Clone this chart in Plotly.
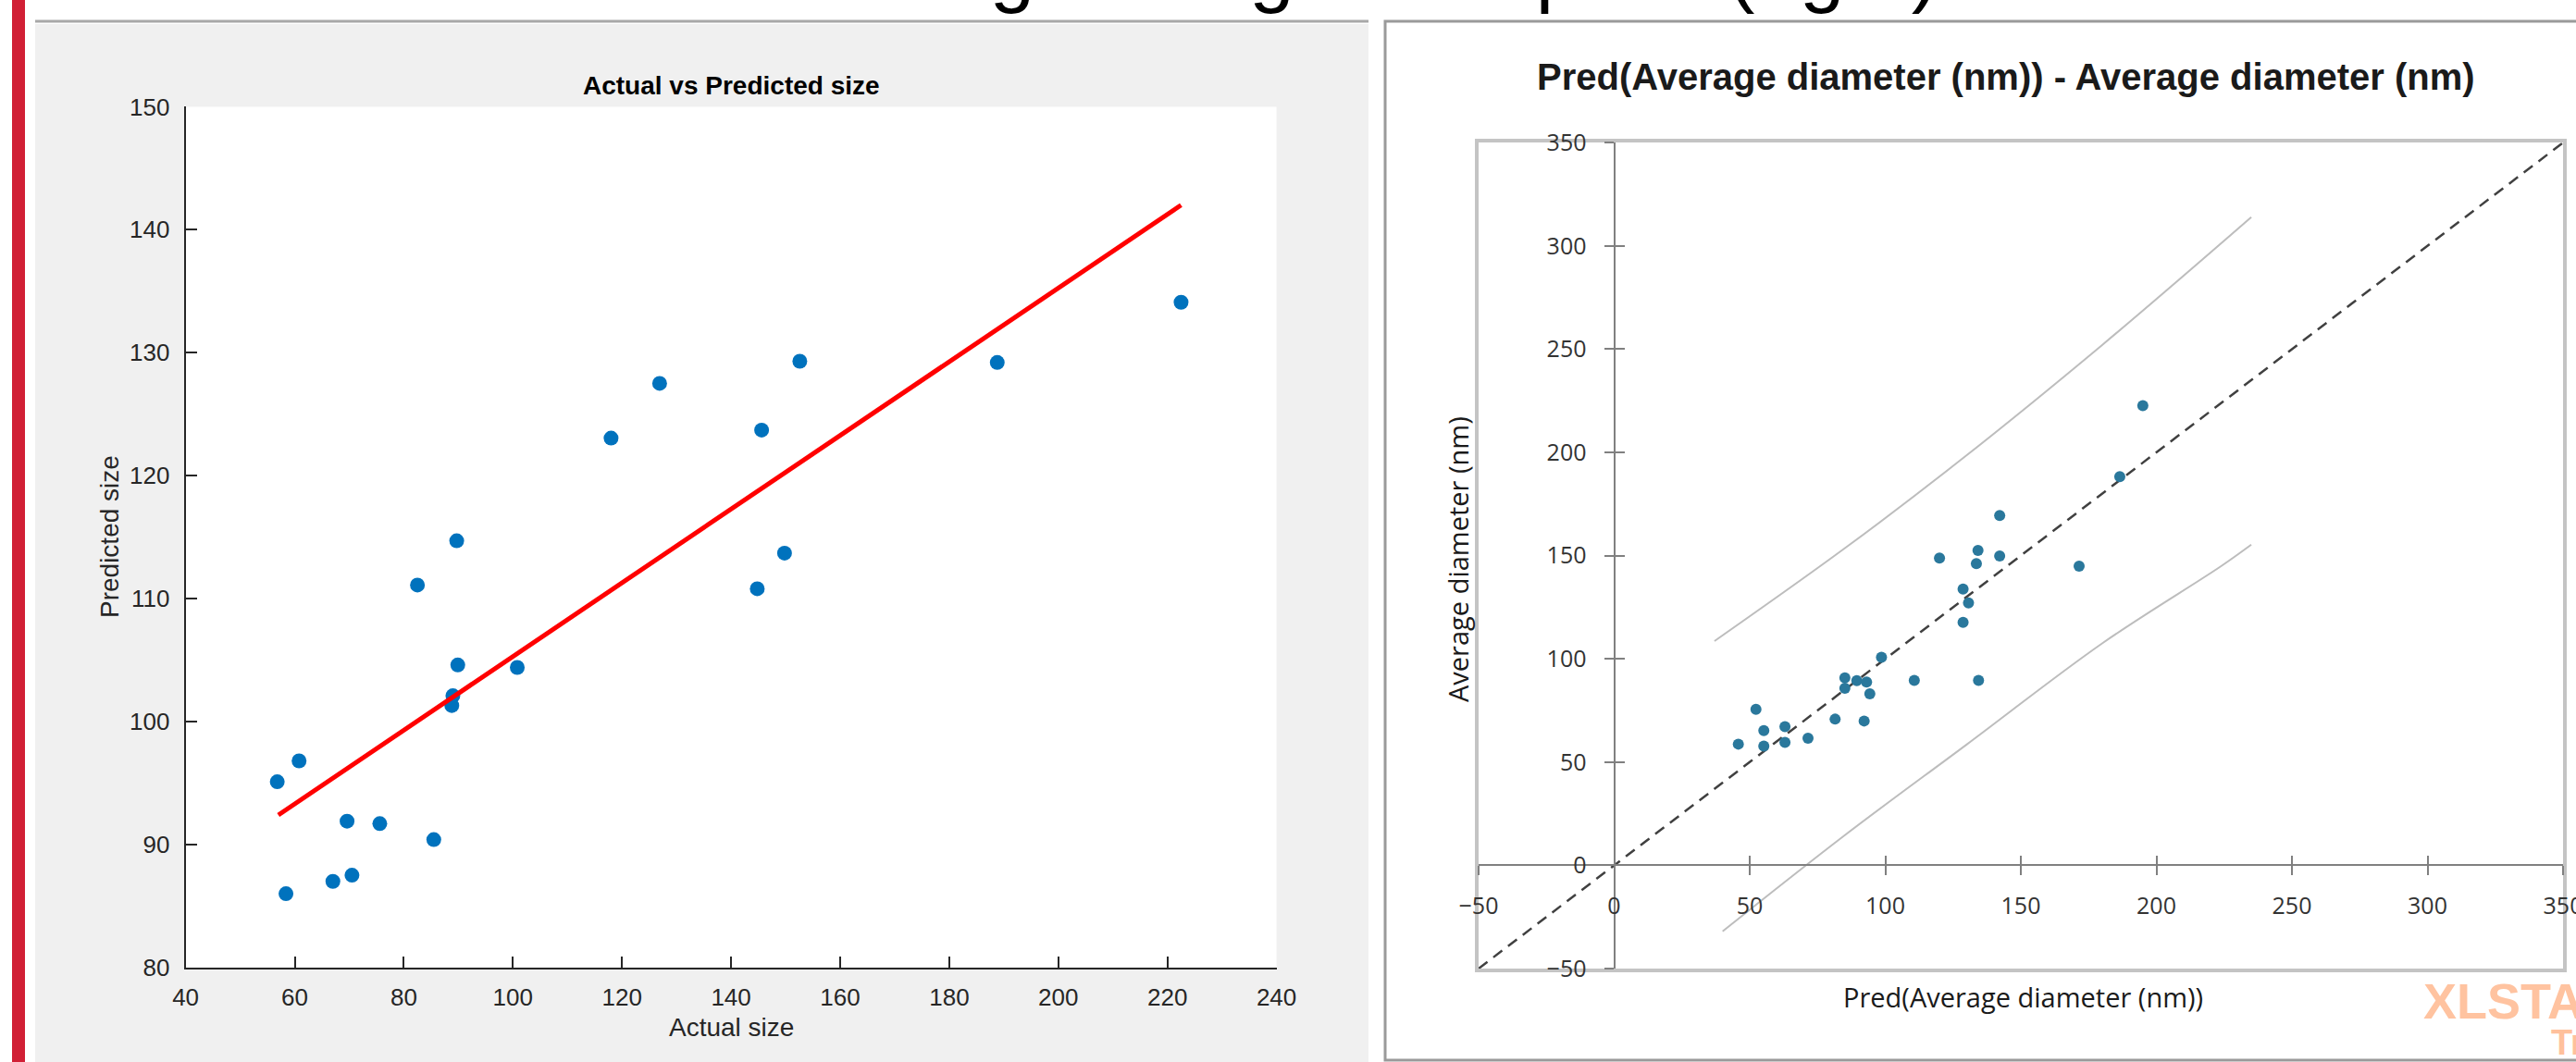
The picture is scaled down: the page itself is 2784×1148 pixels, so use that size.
import plotly.graph_objects as go

W, H = 2784, 1148

# ---------------- Left panel (MATLAB) data ----------------
actual_size = [56.8, 60.8, 58.4, 67.0, 69.6, 70.5, 75.6, 82.5, 85.5, 89.7, 89.9,
               89.0, 88.8, 100.8, 118.0, 126.9, 144.8, 145.6, 149.8, 152.6, 188.8, 222.5]
predicted_size = [95.1, 96.8, 86.0, 87.0, 91.9, 87.5, 91.7, 111.1, 90.4, 114.7, 104.6,
                  102.1, 101.3, 104.4, 123.05, 127.5, 110.8, 123.7, 113.7, 129.3, 129.2, 134.1]
fit_x = [57.0, 222.5]
fit_y = [92.4, 142.0]
left_xticks = [40, 60, 80, 100, 120, 140, 160, 180, 200, 220, 240]
left_yticks = [80, 90, 100, 110, 120, 130, 140, 150]

# ---------------- Right panel (XLSTAT) data ----------------
pred_diam = [45.8, 52.3, 55.2, 55.2, 63.0, 63.0, 71.5, 81.5, 85.1, 85.1, 89.5, 93.1, 94.3, 92.2,
             98.6, 110.7, 134.4, 120.0, 128.7, 130.7, 128.7, 133.6, 134.2, 142.2, 142.2, 171.5,
             186.5, 195.0]
avg_diam = [58.7, 75.6, 65.3, 57.8, 67.2, 59.5, 61.6, 70.8, 90.8, 85.8, 89.5, 88.8, 83.1, 69.9,
            100.8, 89.6, 89.6, 148.8, 133.8, 127.1, 117.7, 146.1, 152.5, 149.8, 169.4, 144.9,
            188.2, 222.6]
diag_x = [-50, 350]
diag_y = [-50, 350]
upper_x = [37, 85, 128, 180, 235]
upper_y = [108.6, 153.5, 196.5, 252.0, 313.9]
lower_x = [40, 85, 130, 180, 224, 235]
lower_y = [-32.0, 14.5, 58.5, 107.5, 145.0, 155.3]
right_ticks = [-50, 0, 50, 100, 150, 200, 250, 300, 350]
right_range = [-50, 350]

# ---------------- layout geometry (pixels) ----------------
L_X0, L_X1, L_YT, L_YB = 200.6, 1379.6, 115.4, 1045.8
R_X0, R_X1, R_YT, R_YB = 1598.0, 2770.0, 154.2, 1047.0


def fx(p):
    return p / W


def fy(p):
    return 1 - p / H


r_xdom = [fx(R_X0), fx(R_X1)]
r_ydom = [fy(R_YB), fy(R_YT)]
zero_frac = (0 - right_range[0]) / (right_range[1] - right_range[0])
xaxis_pos = r_ydom[0] + zero_frac * (r_ydom[1] - r_ydom[0])
yaxis_pos = r_xdom[0] + zero_frac * (r_xdom[1] - r_xdom[0])

fig = go.Figure()

# left
fig.add_trace(go.Scatter(x=actual_size, y=predicted_size, mode="markers",
                         marker=dict(color="#0072BD", size=16, line=dict(width=0)),
                         xaxis="x", yaxis="y", showlegend=False))
fig.add_trace(go.Scatter(x=fit_x, y=fit_y, mode="lines",
                         line=dict(color="#FF0000", width=5),
                         xaxis="x", yaxis="y", showlegend=False))

# right
fig.add_trace(go.Scatter(x=upper_x, y=upper_y, mode="lines",
                         line=dict(color="#BDBDBD", width=2, shape="spline"),
                         xaxis="x2", yaxis="y2", showlegend=False))
fig.add_trace(go.Scatter(x=lower_x, y=lower_y, mode="lines",
                         line=dict(color="#BDBDBD", width=2, shape="spline"),
                         xaxis="x2", yaxis="y2", showlegend=False))
fig.add_trace(go.Scatter(x=diag_x, y=diag_y, mode="lines",
                         line=dict(color="#404040", width=2.5, dash="12px,8px"),
                         xaxis="x2", yaxis="y2", showlegend=False))
fig.add_trace(go.Scatter(x=pred_diam, y=avg_diam, mode="markers",
                         marker=dict(color="#2A789C", size=12, line=dict(width=0)),
                         xaxis="x2", yaxis="y2", showlegend=False))

# dummy traces so overlay axes get drawn
for xa, ya in [("x3", "y2"), ("x4", "y2"), ("x2", "y3"), ("x2", "y4")]:
    fig.add_trace(go.Scatter(x=[None], y=[None], xaxis=xa, yaxis=ya, showlegend=False,
                             hoverinfo="skip"))

mat_font = dict(family="Liberation Sans, Arial, sans-serif", size=26, color="#262626")
xl_font = dict(family="Open Sans, Noto Sans, sans-serif", size=25, color="#333333")

fig.update_layout(
    width=W, height=H, autosize=False,
    margin=dict(l=0, r=0, t=0, b=0, pad=0, autoexpand=False),
    paper_bgcolor="white", plot_bgcolor="white",
    showlegend=False,
    xaxis=dict(domain=[fx(L_X0), fx(L_X1)], range=[40, 240], tickvals=left_xticks,
               ticks="inside", ticklen=12, tickwidth=2, tickcolor="#262626",
               showline=True, linecolor="#262626", linewidth=2, showgrid=False, zeroline=False,
               tickfont=mat_font, anchor="y", ticklabelstandoff=8, automargin=False),
    yaxis=dict(domain=[fy(L_YB), fy(L_YT)], range=[80, 150], tickvals=left_yticks,
               ticks="inside", ticklen=12, tickwidth=2, tickcolor="#262626",
               showline=True, linecolor="#262626", linewidth=2, showgrid=False, zeroline=False,
               tickfont=mat_font, anchor="x", ticklabelstandoff=10, automargin=False),
    xaxis2=dict(domain=r_xdom, range=right_range, anchor="y2", showline=True, mirror=True,
                linecolor="#C4C4C4", linewidth=4, ticks="", showticklabels=False,
                showgrid=False, zeroline=False, automargin=False),
    yaxis2=dict(domain=r_ydom, range=right_range, anchor="x2", showline=True, mirror=True,
                linecolor="#C4C4C4", linewidth=4, ticks="", showticklabels=False,
                showgrid=False, zeroline=False, automargin=False),
    xaxis3=dict(overlaying="x2", anchor="free", position=xaxis_pos, range=right_range,
                tickvals=right_ticks, ticks="outside", ticklen=10, tickwidth=2,
                tickcolor="#808080", showline=True, linecolor="#808080", linewidth=2,
                showgrid=False, zeroline=False, tickfont=xl_font, ticklabelstandoff=12,
                ticklabeloverflow="allow", automargin=False),
    xaxis4=dict(overlaying="x2", anchor="free", position=xaxis_pos, range=right_range,
                tickvals=right_ticks, ticks="inside", ticklen=10, tickwidth=2,
                tickcolor="#808080", showline=False, showticklabels=False,
                showgrid=False, zeroline=False, automargin=False),
    yaxis3=dict(overlaying="y2", anchor="free", position=yaxis_pos, range=right_range,
                tickvals=right_ticks, ticks="outside", ticklen=10, tickwidth=2,
                tickcolor="#808080", showline=True, linecolor="#808080", linewidth=2,
                showgrid=False, zeroline=False, tickfont=xl_font, ticklabelstandoff=14,
                ticklabeloverflow="allow", automargin=False),
    yaxis4=dict(overlaying="y2", anchor="free", position=yaxis_pos, range=right_range,
                tickvals=right_ticks, ticks="inside", ticklen=10, tickwidth=2,
                tickcolor="#808080", showline=False, showticklabels=False,
                showgrid=False, zeroline=False, automargin=False),
)

shapes = [
    # red slide bar
    dict(type="rect", xref="paper", yref="paper", x0=fx(13), x1=fx(27), y0=0, y1=1,
         fillcolor="#D11F35", line=dict(width=0), layer="below"),
    # left grey figure panel
    dict(type="rect", xref="paper", yref="paper", x0=fx(38), x1=fx(1479), y0=0, y1=fy(26),
         fillcolor="#F0F0F0", line=dict(width=0), layer="below"),
    dict(type="rect", xref="x domain", yref="y domain", x0=0, x1=1, y0=0, y1=1,
         fillcolor="white", line=dict(width=0), layer="below"),
    # left panel top rule
    dict(type="line", xref="paper", yref="paper", x0=fx(38), x1=fx(1479), y0=fy(23), y1=fy(23),
         line=dict(color="#A8A8A8", width=3), layer="below"),
    # right panel frame
    dict(type="rect", xref="paper", yref="paper", x0=fx(1497), x1=fx(2800), y0=fy(1146),
         y1=fy(23), line=dict(color="#9A9A9A", width=3), fillcolor="rgba(0,0,0,0)",
         layer="below"),
]
fig.update_layout(shapes=shapes)

ann = [
    dict(text="Training/testing curve plots (right)", x=fx(805), y=fy(17), xanchor="left",
         yanchor="bottom", font=dict(family="Liberation Sans, Arial", size=87, color="black")),
    dict(text="<b>Actual vs Predicted size</b>", x=fx(790), y=fy(93), xanchor="center",
         yanchor="middle", font=dict(family="Liberation Sans, Arial", size=28, color="#000000")),
    dict(text="Actual size", x=fx(790), y=fy(1110), xanchor="center", yanchor="middle",
         font=dict(family="Liberation Sans, Arial", size=28, color="#262626")),
    dict(text="Predicted size", x=fx(118), y=fy(580), xanchor="center", yanchor="middle",
         textangle=-90, font=dict(family="Liberation Sans, Arial", size=28, color="#262626")),
    dict(text="<b>Pred(Average diameter (nm)) - Average diameter (nm)</b>", x=fx(2168), y=fy(83),
         xanchor="center", yanchor="middle",
         font=dict(family="Liberation Sans, Arial", size=40, color="#1A1A1A")),
    dict(text="Pred(Average diameter (nm))", x=fx(2186), y=fy(1077), xanchor="center",
         yanchor="middle", font=dict(family="Open Sans, Noto Sans", size=29, color="#1A1A1A")),
    dict(text="Average diameter (nm)", x=fx(1575), y=fy(604), xanchor="center",
         yanchor="middle", textangle=-90,
         font=dict(family="Open Sans, Noto Sans", size=29, color="#1A1A1A")),
    dict(text="<b>XLSTAT</b>", x=fx(2617), y=fy(1082), xanchor="left", yanchor="middle",
         font=dict(family="Liberation Sans, Arial", size=54, color="#FFC3A0")),
    dict(text="<b>Trial</b>", x=fx(2755), y=fy(1127), xanchor="left", yanchor="middle",
         font=dict(family="Liberation Sans, Arial", size=38, color="#FFC09C")),
]
for a in ann:
    a.setdefault("xref", "paper")
    a.setdefault("yref", "paper")
    a["showarrow"] = False
fig.update_layout(annotations=ann)

fig.write_html("out.html")
